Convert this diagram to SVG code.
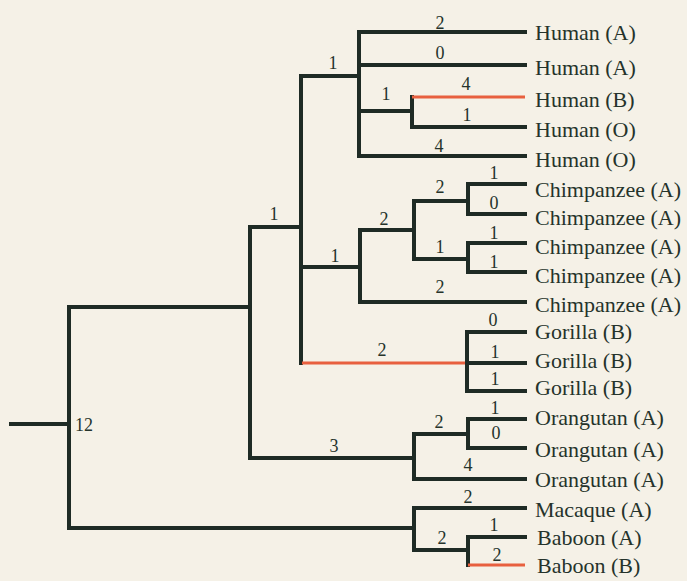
<svg xmlns="http://www.w3.org/2000/svg" width="687" height="581" viewBox="0 0 687 581">
<style>
.bg{fill:#f5f1e7}
.e{fill:none;stroke:#1e2b25;stroke-width:4;stroke-linecap:square}
.r{fill:none;stroke:#e8603f;stroke-width:3;stroke-linecap:butt}
.lab{font-family:'Liberation Serif','Times New Roman','DejaVu Serif',serif;font-size:22px;fill:#25332b}
.n{font-family:'Liberation Serif','Times New Roman','DejaVu Serif',serif;font-size:18px;fill:#25332b;text-anchor:middle}
</style>
<rect class="bg" x="0" y="0" width="687" height="581"/>
<g id="connectors">
<path class="e" d="M11 424H69M69 307V528M69 307H250M69 528H414M250 227V458M250 227H301M250 458H414"/>
<path class="e" d="M301 76V363M301 76H359M359 32V156M359 32H525M359 65H525M359 156H525M359 111H412M412 97V127M412 127H525"/>
<path class="r" d="M412 97H525"/>
<path class="e" d="M301 267H360M360 230V302M360 302H525M360 230H414M414 201V259M414 201H468M468 184V214M468 184H525M468 214H525M414 259H468M468 243V272M468 243H525M468 272H525"/>
<path class="r" d="M302 363H467"/>
<path class="e" d="M467 332V391M467 332H525M467 363H525M467 391H525"/>
<path class="e" d="M414 434V479M414 434H468M468 419V448M468 419H525M468 448H525M414 479H525"/>
<path class="e" d="M414 508V550M414 508H525M414 550H468M468 537V565M468 537H525"/>
<path class="r" d="M468 565H525"/>
</g>
<g id="branch-lengths" font-family="Liberation Serif, serif" font-size="18">
<text class="n" x="440" y="29">2</text>
<text class="n" x="440" y="59">0</text>
<text class="n" x="466" y="90">4</text>
<text class="n" x="467" y="121">1</text>
<text class="n" x="439" y="152">4</text>
<text class="n" x="333" y="69">1</text>
<text class="n" x="386" y="100">1</text>
<text class="n" x="274" y="220">1</text>
<text class="n" x="335" y="262">1</text>
<text class="n" x="384" y="225">2</text>
<text class="n" x="440" y="193">2</text>
<text class="n" x="494" y="179">1</text>
<text class="n" x="494" y="209">0</text>
<text class="n" x="440" y="253">1</text>
<text class="n" x="494" y="239">1</text>
<text class="n" x="494" y="268">1</text>
<text class="n" x="440" y="293">2</text>
<text class="n" x="382" y="356">2</text>
<text class="n" x="493" y="326">0</text>
<text class="n" x="495" y="358">1</text>
<text class="n" x="495" y="385">1</text>
<text class="n" x="334" y="452">3</text>
<text class="n" x="439" y="428">2</text>
<text class="n" x="495" y="414">1</text>
<text class="n" x="496" y="439">0</text>
<text class="n" x="468" y="471">4</text>
<text class="n" x="468" y="503">2</text>
<text class="n" x="442" y="544">2</text>
<text class="n" x="494" y="531">1</text>
<text class="n" x="497" y="561">2</text>
<text class="n" x="84" y="431">12</text>
</g>
<g id="leaves" font-family="Liberation Serif, serif" font-size="22">
<g id="leaf-human-a1"><text class="lab" x="535" y="40">Human (A)</text></g>
<g id="leaf-human-a2"><text class="lab" x="535" y="75">Human (A)</text></g>
<g id="leaf-human-b"><text class="lab" x="535" y="107">Human (B)</text></g>
<g id="leaf-human-o1"><text class="lab" x="535" y="137">Human (O)</text></g>
<g id="leaf-human-o2"><text class="lab" x="535" y="167">Human (O)</text></g>
<g id="leaf-chimp-1"><text class="lab" x="535" y="197">Chimpanzee (A)</text></g>
<g id="leaf-chimp-2"><text class="lab" x="535" y="225">Chimpanzee (A)</text></g>
<g id="leaf-chimp-3"><text class="lab" x="535" y="254">Chimpanzee (A)</text></g>
<g id="leaf-chimp-4"><text class="lab" x="535" y="283">Chimpanzee (A)</text></g>
<g id="leaf-chimp-5"><text class="lab" x="535" y="312">Chimpanzee (A)</text></g>
<g id="leaf-gorilla-1"><text class="lab" x="535" y="339">Gorilla (B)</text></g>
<g id="leaf-gorilla-2"><text class="lab" x="535" y="368">Gorilla (B)</text></g>
<g id="leaf-gorilla-3"><text class="lab" x="535" y="395">Gorilla (B)</text></g>
<g id="leaf-orangutan-1"><text class="lab" x="535" y="425">Orangutan (A)</text></g>
<g id="leaf-orangutan-2"><text class="lab" x="535" y="457">Orangutan (A)</text></g>
<g id="leaf-orangutan-3"><text class="lab" x="535" y="487">Orangutan (A)</text></g>
<g id="leaf-macaque"><text class="lab" x="535" y="517">Macaque (A)</text></g>
<g id="leaf-baboon-a"><text class="lab" x="537" y="545">Baboon (A)</text></g>
<g id="leaf-baboon-b"><text class="lab" x="537" y="573">Baboon (B)</text></g>
</g>
</svg>
